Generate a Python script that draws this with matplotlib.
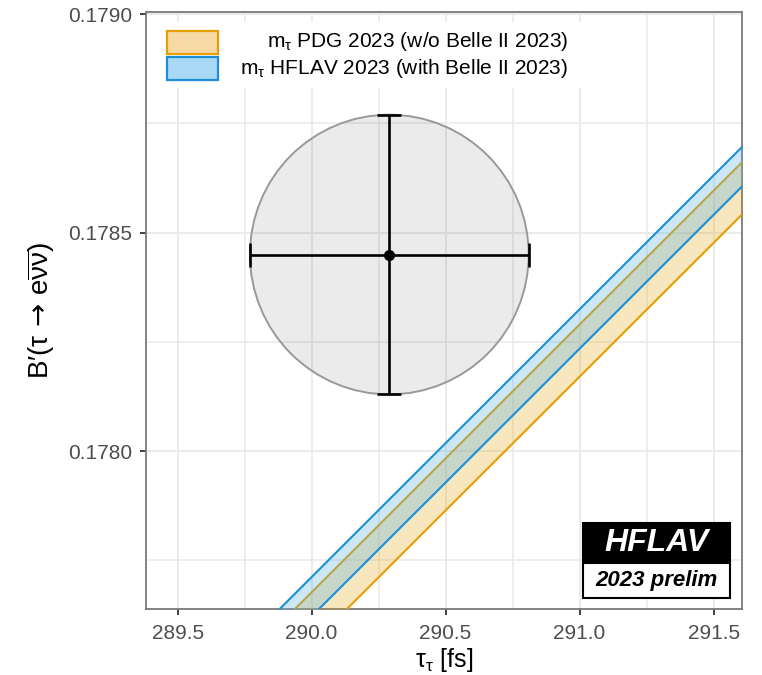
import numpy as np
import matplotlib
matplotlib.use("Agg")
import matplotlib.pyplot as plt
from matplotlib.patches import Ellipse, Rectangle
from matplotlib.ticker import MultipleLocator, FormatStrFormatter

plt.rcParams['font.family'] = ['Liberation Sans', 'DejaVu Sans']
plt.rcParams['mathtext.default'] = 'regular'
plt.rcParams['mathtext.fontset'] = 'custom'
plt.rcParams['mathtext.rm'] = 'Liberation Sans'
plt.rcParams['mathtext.it'] = 'Liberation Sans:italic'
plt.rcParams['mathtext.sf'] = 'DejaVu Sans'

# ---- data ----
tau_lifetime = 290.29        # fs
tau_lifetime_err = 0.52      # fs
b_e_prime = 0.17845
b_e_prime_err = 0.00032

band_labels = ["m$_{\\tau}$ PDG 2023 (w/o Belle II 2023)",
               "m$_{\\tau}$ HFLAV 2023 (with Belle II 2023)"]
# band edges expressed as B'(tau->e nu nu) / tau_tau  [1/fs]
band_ratio_low = [6.1227e-4, 6.1249e-4]
band_ratio_high = [6.1268e-4, 6.1280e-4]
band_colors = ["#E69F00", "#56B4E9"]
band_edge_colors = ["#E69F00", "#1A8FD8"]
band_alpha = [0.25, 0.30]

x_ticks = [289.5, 290.0, 290.5, 291.0, 291.5]
y_ticks = [0.1780, 0.1785, 0.1790]
x_lim = (289.381, 291.607)
y_lim = (0.177639, 0.179005)

# ---- figure ----
fig = plt.figure(figsize=(7.62, 6.75), dpi=100)
ax = fig.add_axes([0.1912, 0.0978, 0.7829, 0.8844])
ax.set_xlim(*x_lim)
ax.set_ylim(*y_lim)

# grid
ax.set_axisbelow(True)
ax.xaxis.set_minor_locator(MultipleLocator(0.25))
ax.yaxis.set_minor_locator(MultipleLocator(0.00025))
ax.set_xticks(x_ticks)
ax.set_yticks(y_ticks)
ax.xaxis.set_major_formatter(FormatStrFormatter('%.1f'))
ax.yaxis.set_major_formatter(FormatStrFormatter('%.4f'))
ax.grid(which='major', color='#EBEBEB', lw=1.4)
ax.grid(which='minor', color='#EBEBEB', lw=1.2)
ax.tick_params(which='minor', length=0)
ax.tick_params(which='major', length=4, width=1.3, color='#333333',
               labelcolor='#4D4D4D', labelsize=15)
ax.tick_params(axis='y', pad=6)
ax.tick_params(axis='x', pad=7)
for s in ax.spines.values():
    s.set_color('#7A7A7A')
    s.set_linewidth(1.3)

# circle (1 sigma)
circ = Ellipse((tau_lifetime, b_e_prime), 2 * tau_lifetime_err, 2 * b_e_prime_err,
               facecolor=(0, 0, 0, 0.08), edgecolor='#999999', lw=1.4, zorder=2)
ax.add_patch(circ)

# bands
xs = np.array(x_lim)
for i in range(len(band_labels)):
    lo = band_ratio_low[i] * xs
    hi = band_ratio_high[i] * xs
    ax.fill_between(xs, lo, hi, color=band_colors[i], alpha=band_alpha[i], lw=0, zorder=3 + i)
    ax.plot(xs, lo, color=band_edge_colors[i], lw=1.5, zorder=3 + i)
    ax.plot(xs, hi, color=band_edge_colors[i], lw=1.5, zorder=3 + i)

# measurement
ax.errorbar([tau_lifetime], [b_e_prime], xerr=[tau_lifetime_err], yerr=[b_e_prime_err],
            fmt='o', color='black', ms=7, elinewidth=1.9, capsize=8.5, capthick=1.9, zorder=6)

# legend (manual)
ax.add_patch(Rectangle((0.007, 0.873), 0.75, 0.110, transform=ax.transAxes,
                       facecolor='white', edgecolor='none', zorder=7))
key_fc = ["#F6D9A5", "#AAD9F5"]
key_y = [0.9296, 0.8861]
text_y = [0.950, 0.906]
for i in range(len(band_labels)):
    ax.add_patch(Rectangle((0.0357, key_y[i]), 0.0855, 0.0386, transform=ax.transAxes,
                           facecolor=key_fc[i], edgecolor=band_edge_colors[i], lw=1.6, zorder=8))
    ax.text(0.708, text_y[i], band_labels[i], transform=ax.transAxes, ha='right', va='center',
            fontsize=15, color='black', zorder=8)

# HFLAV logo
ax.add_patch(Rectangle((0.733, 0.077), 0.246, 0.067, transform=ax.transAxes,
                       facecolor='black', edgecolor='black', lw=1.5, zorder=9))
ax.add_patch(Rectangle((0.733, 0.018), 0.246, 0.059, transform=ax.transAxes,
                       facecolor='white', edgecolor='black', lw=1.5, zorder=9))
ax.text(0.856, 0.1105, "HFLAV", transform=ax.transAxes, ha='center', va='center',
        fontsize=23, fontweight='bold', fontstyle='italic', color='white', zorder=10)
ax.text(0.856, 0.0477, "2023 prelim", transform=ax.transAxes, ha='center', va='center',
        fontsize=16, fontweight='bold', fontstyle='italic', color='black', zorder=10)

# axis labels
ax.set_xlabel("$\\tau_{\\tau}$ [fs]", fontsize=18, labelpad=2)
ax.set_ylabel("B\u2032(\u03c4$\\,\\mathsf{\\rightarrow}\\,$e$\\overline{\\nu\\nu}$)",
              fontsize=20, labelpad=8)

fig.savefig("out.png", dpi=100)
